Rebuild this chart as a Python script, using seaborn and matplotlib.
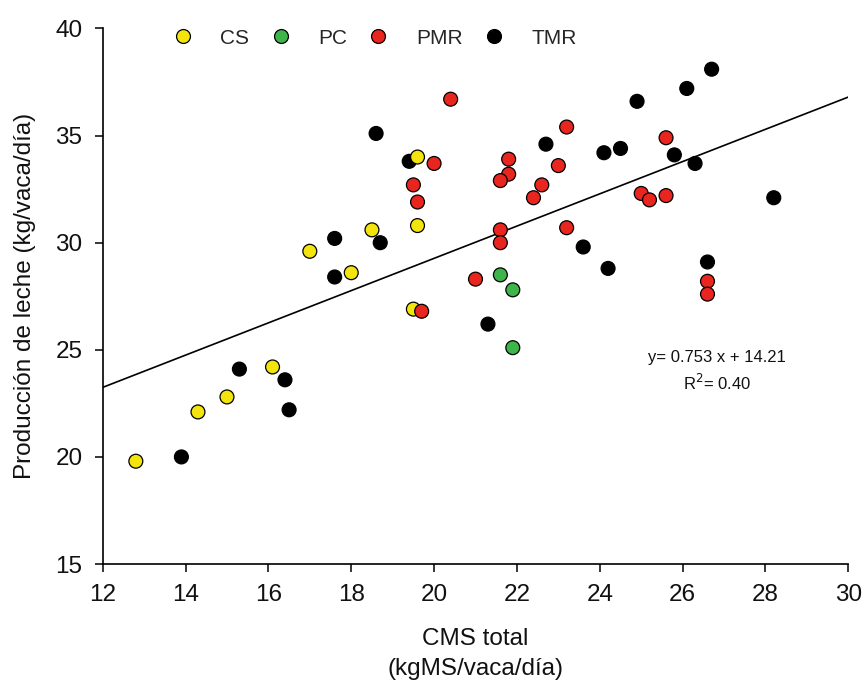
import numpy as np
import pandas as pd
import matplotlib
matplotlib.use("Agg")
import matplotlib.pyplot as plt
import seaborn as sns

# ---- data ----
cs_x = [12.8, 14.3, 15.0, 16.1, 17.0, 18.0, 18.5, 19.6, 19.6, 19.5]
cs_y = [19.8, 22.1, 22.8, 24.2, 29.6, 28.6, 30.6, 34.0, 30.8, 26.9]

pc_x = [21.6, 21.9, 21.9]
pc_y = [28.5, 27.8, 25.1]

pmr_x = [20.4, 23.2, 25.6, 20.0, 21.8, 21.8, 21.6, 23.0, 22.6, 22.4, 19.5,
         19.6, 25.0, 25.2, 25.6, 21.6, 21.6, 23.2, 21.0, 19.7, 26.6, 26.6]
pmr_y = [36.7, 35.4, 34.9, 33.7, 33.9, 33.2, 32.9, 33.6, 32.7, 32.1, 32.7,
         31.9, 32.3, 32.0, 32.2, 30.6, 30.0, 30.7, 28.3, 26.8, 28.2, 27.6]

tmr_x = [13.9, 15.3, 16.4, 16.5, 17.6, 17.6, 18.7, 18.6, 19.4, 22.7, 24.1,
         24.5, 24.9, 25.8, 26.1, 26.7, 26.3, 28.2, 23.6, 24.2, 26.6, 21.3]
tmr_y = [20.0, 24.1, 23.6, 22.2, 30.2, 28.4, 30.0, 35.1, 33.8, 34.6, 34.2,
         34.4, 36.6, 34.1, 37.2, 38.1, 33.7, 32.1, 29.8, 28.8, 29.1, 26.2]

groups = ["CS", "PC", "PMR", "TMR"]
slope, intercept = 0.753, 14.21
r2 = 0.40

x_ticks = [12, 14, 16, 18, 20, 22, 24, 26, 28, 30]
y_ticks = [15, 20, 25, 30, 35, 40]

# ---- build frame (draw order: TMR, CS, PC, PMR) ----
df = pd.concat([
    pd.DataFrame({"x": tmr_x, "y": tmr_y, "g": "TMR"}),
    pd.DataFrame({"x": cs_x, "y": cs_y, "g": "CS"}),
    pd.DataFrame({"x": pc_x, "y": pc_y, "g": "PC"}),
    pd.DataFrame({"x": pmr_x, "y": pmr_y, "g": "PMR"}),
], ignore_index=True)

palette = {"CS": "#F2E40C", "PC": "#3DB54A", "PMR": "#E8251F", "TMR": "#000000"}

sns.set_theme(style="ticks")
plt.rcParams["font.family"] = ["Liberation Sans", "DejaVu Sans"]

fig = plt.figure(figsize=(8.63, 6.85), dpi=100)
ax = fig.add_axes([0.119, 0.1766, 0.864, 0.7818])

sns.scatterplot(data=df, x="x", y="y", hue="g", hue_order=groups,
                palette=palette, s=100, edgecolor="black", linewidth=0.9,
                ax=ax, zorder=3)

line_x = np.array([x_ticks[0], x_ticks[-1]])
sns.lineplot(x=line_x, y=slope * line_x + intercept, color="black",
             linewidth=1.2, ax=ax, zorder=2)

ax.set_xlim(x_ticks[0], x_ticks[-1])
ax.set_ylim(y_ticks[0], y_ticks[-1])
ax.set_xticks(x_ticks)
ax.set_yticks(y_ticks)
ax.tick_params(axis="both", direction="out", length=5.5, width=1.1,
               labelsize=17.5, color="black", labelcolor="#111111", pad=9)
for side in ["top", "right"]:
    ax.spines[side].set_visible(False)
for side in ["left", "bottom"]:
    ax.spines[side].set_linewidth(1.2)
    ax.spines[side].set_color("black")

ax.set_xlabel("CMS total\n(kgMS/vaca/día)", fontsize=17.5, labelpad=16,
              color="#111111", linespacing=1.45)
ax.set_ylabel("Producción de leche (kg/vaca/día)", fontsize=17.5,
              labelpad=14, color="#111111")

ax.text(26.82, 24.64, f"y= {slope:.3f} x + {intercept:.2f}", ha="center",
        va="center", fontsize=12, color="#111111")
ax.text(26.82, 23.47, f"R$^2$= {r2:.2f}", ha="center", va="center",
        fontsize=12, color="#111111")

sns.move_legend(ax, "center left", bbox_to_anchor=(0.0936, 0.982), ncol=4,
                frameon=False, title=None, fontsize=15, handlelength=1.0,
                handletextpad=1.3, columnspacing=1.0, borderaxespad=0,
                borderpad=0, markerscale=1.0)

fig.savefig("out.png", dpi=100)
